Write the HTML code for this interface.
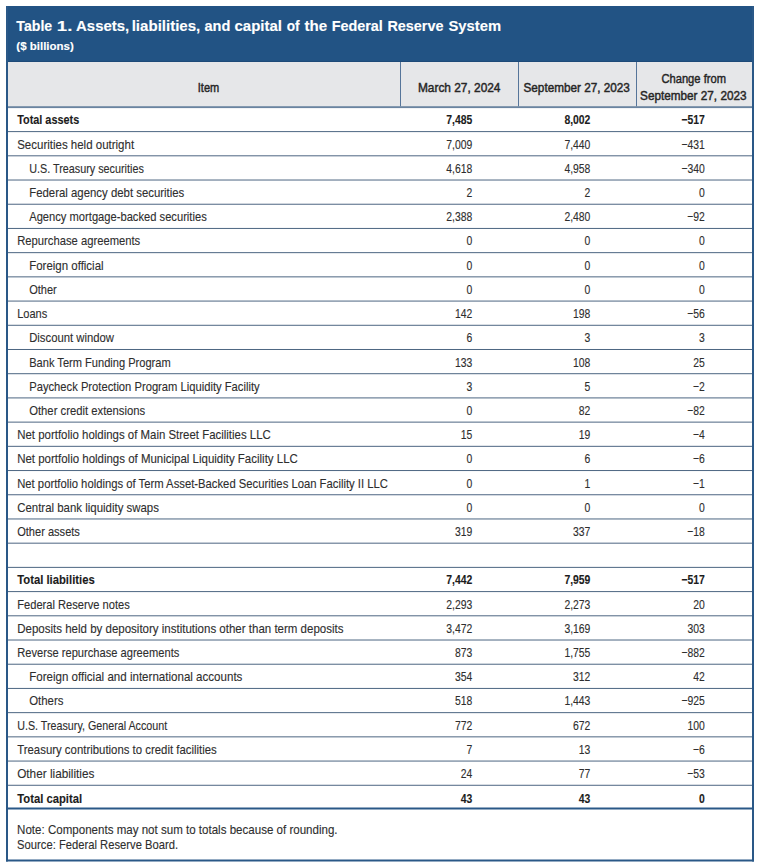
<!DOCTYPE html>
<html><head><meta charset="utf-8"><title>Table 1. Assets, liabilities, and capital of the Federal Reserve System</title>
<style>
html,body{margin:0;padding:0;background:#fff;}
body{width:757px;height:866px;overflow:hidden;}
svg{display:block;}
svg text{font-family:"Liberation Sans", Arial, sans-serif;}
</style></head><body>
<svg width="757" height="866" viewBox="0 0 757 866">
<rect x="0" y="0" width="757" height="866" fill="#ffffff"/>
<rect x="6" y="6" width="748" height="56" fill="#225384"/>
<rect x="6" y="61" width="748" height="1" fill="#1e4a78"/>
<rect x="8" y="62" width="744" height="44.5" fill="#e6e7e9"/>
<rect x="400.0" y="62" width="1" height="44.5" fill="#56759a"/>
<rect x="518.0" y="62" width="1" height="44.5" fill="#56759a"/>
<rect x="636.0" y="62" width="1" height="44.5" fill="#56759a"/>
<rect x="8" y="106.2" width="744" height="1.9" fill="#6a84a0"/>
<rect x="8" y="131.10" width="744" height="1" fill="#4d6682"/>
<rect x="8" y="155.31" width="744" height="1" fill="#4d6682"/>
<rect x="8" y="179.52" width="744" height="1" fill="#4d6682"/>
<rect x="8" y="203.73" width="744" height="1" fill="#4d6682"/>
<rect x="8" y="227.94" width="744" height="1" fill="#4d6682"/>
<rect x="8" y="252.15" width="744" height="1" fill="#4d6682"/>
<rect x="8" y="276.36" width="744" height="1" fill="#4d6682"/>
<rect x="8" y="300.57" width="744" height="1" fill="#4d6682"/>
<rect x="8" y="324.78" width="744" height="1" fill="#4d6682"/>
<rect x="8" y="348.99" width="744" height="1" fill="#4d6682"/>
<rect x="8" y="373.20" width="744" height="1" fill="#4d6682"/>
<rect x="8" y="397.41" width="744" height="1" fill="#4d6682"/>
<rect x="8" y="421.62" width="744" height="1" fill="#4d6682"/>
<rect x="8" y="445.83" width="744" height="1" fill="#4d6682"/>
<rect x="8" y="470.04" width="744" height="1" fill="#4d6682"/>
<rect x="8" y="494.25" width="744" height="1" fill="#4d6682"/>
<rect x="8" y="518.46" width="744" height="1" fill="#4d6682"/>
<rect x="8" y="542.67" width="744" height="1" fill="#4d6682"/>
<rect x="8" y="566.88" width="744" height="1" fill="#4d6682"/>
<rect x="8" y="591.09" width="744" height="1" fill="#4d6682"/>
<rect x="8" y="615.30" width="744" height="1" fill="#4d6682"/>
<rect x="8" y="639.51" width="744" height="1" fill="#4d6682"/>
<rect x="8" y="663.72" width="744" height="1" fill="#4d6682"/>
<rect x="8" y="687.93" width="744" height="1" fill="#4d6682"/>
<rect x="8" y="712.14" width="744" height="1" fill="#4d6682"/>
<rect x="8" y="736.35" width="744" height="1" fill="#4d6682"/>
<rect x="8" y="760.56" width="744" height="1" fill="#4d6682"/>
<rect x="8" y="784.77" width="744" height="1" fill="#4d6682"/>
<rect x="8" y="807.5" width="744" height="2" fill="#2a5887"/>
<rect x="6" y="6" width="2" height="855.5" fill="#2a5887"/>
<rect x="752" y="6" width="2" height="855.5" fill="#2a5887"/>
<rect x="6" y="859.5" width="748" height="2" fill="#2a5887"/>
<g fill="#2e2e2e" stroke="#2e2e2e" stroke-width="0.12">
<text transform="translate(16.31 30.80) scale(0.9436 1)" font-size="15" font-weight="bold" fill="#ffffff" stroke="#ffffff">Table</text>
<text transform="translate(56.86 30.80) scale(1.2381 1)" font-size="15" font-weight="bold" fill="#ffffff" stroke="#ffffff">1.</text>
<text transform="translate(76.10 30.80) scale(0.9952 1)" font-size="15" font-weight="bold" fill="#ffffff" stroke="#ffffff">Assets,</text>
<text transform="translate(131.69 30.80) scale(1.0053 1)" font-size="15" font-weight="bold" fill="#ffffff" stroke="#ffffff">liabilities,</text>
<text transform="translate(204.41 30.80) scale(0.9703 1)" font-size="15" font-weight="bold" fill="#ffffff" stroke="#ffffff">and</text>
<text transform="translate(234.50 30.80) scale(1.0000 1)" font-size="15" font-weight="bold" fill="#ffffff" stroke="#ffffff">capital</text>
<text transform="translate(286.65 30.80) scale(0.9091 1)" font-size="15" font-weight="bold" fill="#ffffff" stroke="#ffffff">of</text>
<text transform="translate(304.45 30.80) scale(1.0069 1)" font-size="15" font-weight="bold" fill="#ffffff" stroke="#ffffff">the</text>
<text transform="translate(331.64 30.80) scale(0.9600 1)" font-size="15" font-weight="bold" fill="#ffffff" stroke="#ffffff">Federal</text>
<text transform="translate(387.44 30.80) scale(0.9596 1)" font-size="15" font-weight="bold" fill="#ffffff" stroke="#ffffff">Reserve</text>
<text transform="translate(448.51 30.80) scale(0.9865 1)" font-size="15" font-weight="bold" fill="#ffffff" stroke="#ffffff">System</text>
<text transform="translate(16.30 50.20) scale(1.0000 1)" font-size="11.5" font-weight="bold" fill="#ffffff" stroke="#ffffff">($ billions)</text>
<text transform="translate(208.50 91.80) scale(0.8500 1)" font-size="13" text-anchor="middle" fill="#262626" stroke="#262626" stroke-width="0.45">Item</text>
<text transform="translate(459.20 91.80) scale(0.9150 1)" font-size="13" text-anchor="middle" fill="#262626" stroke="#262626" stroke-width="0.45">March 27, 2024</text>
<text transform="translate(576.70 91.80) scale(0.9050 1)" font-size="13" text-anchor="middle" fill="#262626" stroke="#262626" stroke-width="0.45">September 27, 2023</text>
<text transform="translate(693.70 82.90) scale(0.8600 1)" font-size="13" text-anchor="middle" fill="#262626" stroke="#262626" stroke-width="0.45">Change from</text>
<text transform="translate(693.30 99.90) scale(0.9050 1)" font-size="13" text-anchor="middle" fill="#262626" stroke="#262626" stroke-width="0.45">September 27, 2023</text>
<text transform="translate(17.20 124.10) scale(0.8369 1)" font-size="13" font-weight="bold" fill="#1c1c1c" stroke="#1c1c1c">Total assets</text>
<text transform="translate(472.30 124.10) scale(0.8000 1)" font-size="13" font-weight="bold" text-anchor="end" fill="#1c1c1c" stroke="#1c1c1c">7,485</text>
<text transform="translate(590.40 124.10) scale(0.8000 1)" font-size="13" font-weight="bold" text-anchor="end" fill="#1c1c1c" stroke="#1c1c1c">8,002</text>
<text transform="translate(704.90 124.10) scale(0.8000 1)" font-size="13" font-weight="bold" text-anchor="end" fill="#1c1c1c" stroke="#1c1c1c">−517</text>
<text transform="translate(17.20 148.61) scale(0.8842 1)" font-size="13">Securities held outright</text>
<text transform="translate(472.30 148.61) scale(0.8000 1)" font-size="13" text-anchor="end">7,009</text>
<text transform="translate(590.40 148.61) scale(0.8000 1)" font-size="13" text-anchor="end">7,440</text>
<text transform="translate(704.90 148.61) scale(0.8000 1)" font-size="13" text-anchor="end">−431</text>
<text transform="translate(29.20 172.82) scale(0.8320 1)" font-size="13">U.S. Treasury securities</text>
<text transform="translate(472.30 172.82) scale(0.8000 1)" font-size="13" text-anchor="end">4,618</text>
<text transform="translate(590.40 172.82) scale(0.8000 1)" font-size="13" text-anchor="end">4,958</text>
<text transform="translate(704.90 172.82) scale(0.8000 1)" font-size="13" text-anchor="end">−340</text>
<text transform="translate(29.20 197.03) scale(0.8765 1)" font-size="13">Federal agency debt securities</text>
<text transform="translate(472.30 197.03) scale(0.8000 1)" font-size="13" text-anchor="end">2</text>
<text transform="translate(590.40 197.03) scale(0.8000 1)" font-size="13" text-anchor="end">2</text>
<text transform="translate(704.90 197.03) scale(0.8000 1)" font-size="13" text-anchor="end">0</text>
<text transform="translate(29.20 221.24) scale(0.8601 1)" font-size="13">Agency mortgage-backed securities</text>
<text transform="translate(472.30 221.24) scale(0.8000 1)" font-size="13" text-anchor="end">2,388</text>
<text transform="translate(590.40 221.24) scale(0.8000 1)" font-size="13" text-anchor="end">2,480</text>
<text transform="translate(704.90 221.24) scale(0.8000 1)" font-size="13" text-anchor="end">−92</text>
<text transform="translate(17.20 245.45) scale(0.8652 1)" font-size="13">Repurchase agreements</text>
<text transform="translate(472.30 245.45) scale(0.8000 1)" font-size="13" text-anchor="end">0</text>
<text transform="translate(590.40 245.45) scale(0.8000 1)" font-size="13" text-anchor="end">0</text>
<text transform="translate(704.90 245.45) scale(0.8000 1)" font-size="13" text-anchor="end">0</text>
<text transform="translate(29.20 269.66) scale(0.8834 1)" font-size="13">Foreign official</text>
<text transform="translate(472.30 269.66) scale(0.8000 1)" font-size="13" text-anchor="end">0</text>
<text transform="translate(590.40 269.66) scale(0.8000 1)" font-size="13" text-anchor="end">0</text>
<text transform="translate(704.90 269.66) scale(0.8000 1)" font-size="13" text-anchor="end">0</text>
<text transform="translate(29.20 293.87) scale(0.8500 1)" font-size="13">Other</text>
<text transform="translate(472.30 293.87) scale(0.8000 1)" font-size="13" text-anchor="end">0</text>
<text transform="translate(590.40 293.87) scale(0.8000 1)" font-size="13" text-anchor="end">0</text>
<text transform="translate(704.90 293.87) scale(0.8000 1)" font-size="13" text-anchor="end">0</text>
<text transform="translate(17.20 318.08) scale(0.8506 1)" font-size="13">Loans</text>
<text transform="translate(472.30 318.08) scale(0.8000 1)" font-size="13" text-anchor="end">142</text>
<text transform="translate(590.40 318.08) scale(0.8000 1)" font-size="13" text-anchor="end">198</text>
<text transform="translate(704.90 318.08) scale(0.8000 1)" font-size="13" text-anchor="end">−56</text>
<text transform="translate(29.20 342.29) scale(0.8703 1)" font-size="13">Discount window</text>
<text transform="translate(472.30 342.29) scale(0.8000 1)" font-size="13" text-anchor="end">6</text>
<text transform="translate(590.40 342.29) scale(0.8000 1)" font-size="13" text-anchor="end">3</text>
<text transform="translate(704.90 342.29) scale(0.8000 1)" font-size="13" text-anchor="end">3</text>
<text transform="translate(29.20 366.50) scale(0.8529 1)" font-size="13">Bank Term Funding Program</text>
<text transform="translate(472.30 366.50) scale(0.8000 1)" font-size="13" text-anchor="end">133</text>
<text transform="translate(590.40 366.50) scale(0.8000 1)" font-size="13" text-anchor="end">108</text>
<text transform="translate(704.90 366.50) scale(0.8000 1)" font-size="13" text-anchor="end">25</text>
<text transform="translate(29.20 390.71) scale(0.8631 1)" font-size="13">Paycheck Protection Program Liquidity Facility</text>
<text transform="translate(472.30 390.71) scale(0.8000 1)" font-size="13" text-anchor="end">3</text>
<text transform="translate(590.40 390.71) scale(0.8000 1)" font-size="13" text-anchor="end">5</text>
<text transform="translate(704.90 390.71) scale(0.8000 1)" font-size="13" text-anchor="end">−2</text>
<text transform="translate(29.20 414.92) scale(0.8688 1)" font-size="13">Other credit extensions</text>
<text transform="translate(472.30 414.92) scale(0.8000 1)" font-size="13" text-anchor="end">0</text>
<text transform="translate(590.40 414.92) scale(0.8000 1)" font-size="13" text-anchor="end">82</text>
<text transform="translate(704.90 414.92) scale(0.8000 1)" font-size="13" text-anchor="end">−82</text>
<text transform="translate(17.20 439.13) scale(0.8807 1)" font-size="13">Net portfolio holdings of Main Street Facilities LLC</text>
<text transform="translate(472.30 439.13) scale(0.8000 1)" font-size="13" text-anchor="end">15</text>
<text transform="translate(590.40 439.13) scale(0.8000 1)" font-size="13" text-anchor="end">19</text>
<text transform="translate(704.90 439.13) scale(0.8000 1)" font-size="13" text-anchor="end">−4</text>
<text transform="translate(17.20 463.34) scale(0.8839 1)" font-size="13">Net portfolio holdings of Municipal Liquidity Facility LLC</text>
<text transform="translate(472.30 463.34) scale(0.8000 1)" font-size="13" text-anchor="end">0</text>
<text transform="translate(590.40 463.34) scale(0.8000 1)" font-size="13" text-anchor="end">6</text>
<text transform="translate(704.90 463.34) scale(0.8000 1)" font-size="13" text-anchor="end">−6</text>
<text transform="translate(17.20 487.55) scale(0.8684 1)" font-size="13">Net portfolio holdings of Term Asset-Backed Securities Loan Facility II LLC</text>
<text transform="translate(472.30 487.55) scale(0.8000 1)" font-size="13" text-anchor="end">0</text>
<text transform="translate(590.40 487.55) scale(0.8000 1)" font-size="13" text-anchor="end">1</text>
<text transform="translate(704.90 487.55) scale(0.8000 1)" font-size="13" text-anchor="end">−1</text>
<text transform="translate(17.20 511.76) scale(0.8806 1)" font-size="13">Central bank liquidity swaps</text>
<text transform="translate(472.30 511.76) scale(0.8000 1)" font-size="13" text-anchor="end">0</text>
<text transform="translate(590.40 511.76) scale(0.8000 1)" font-size="13" text-anchor="end">0</text>
<text transform="translate(704.90 511.76) scale(0.8000 1)" font-size="13" text-anchor="end">0</text>
<text transform="translate(17.20 535.97) scale(0.8512 1)" font-size="13">Other assets</text>
<text transform="translate(472.30 535.97) scale(0.8000 1)" font-size="13" text-anchor="end">319</text>
<text transform="translate(590.40 535.97) scale(0.8000 1)" font-size="13" text-anchor="end">337</text>
<text transform="translate(704.90 535.97) scale(0.8000 1)" font-size="13" text-anchor="end">−18</text>
<text transform="translate(17.20 584.39) scale(0.8692 1)" font-size="13" font-weight="bold" fill="#1c1c1c" stroke="#1c1c1c">Total liabilities</text>
<text transform="translate(472.30 584.39) scale(0.8000 1)" font-size="13" font-weight="bold" text-anchor="end" fill="#1c1c1c" stroke="#1c1c1c">7,442</text>
<text transform="translate(590.40 584.39) scale(0.8000 1)" font-size="13" font-weight="bold" text-anchor="end" fill="#1c1c1c" stroke="#1c1c1c">7,959</text>
<text transform="translate(704.90 584.39) scale(0.8000 1)" font-size="13" font-weight="bold" text-anchor="end" fill="#1c1c1c" stroke="#1c1c1c">−517</text>
<text transform="translate(17.20 608.60) scale(0.8575 1)" font-size="13">Federal Reserve notes</text>
<text transform="translate(472.30 608.60) scale(0.8000 1)" font-size="13" text-anchor="end">2,293</text>
<text transform="translate(590.40 608.60) scale(0.8000 1)" font-size="13" text-anchor="end">2,273</text>
<text transform="translate(704.90 608.60) scale(0.8000 1)" font-size="13" text-anchor="end">20</text>
<text transform="translate(17.20 632.81) scale(0.8869 1)" font-size="13">Deposits held by depository institutions other than term deposits</text>
<text transform="translate(472.30 632.81) scale(0.8000 1)" font-size="13" text-anchor="end">3,472</text>
<text transform="translate(590.40 632.81) scale(0.8000 1)" font-size="13" text-anchor="end">3,169</text>
<text transform="translate(704.90 632.81) scale(0.8000 1)" font-size="13" text-anchor="end">303</text>
<text transform="translate(17.20 657.02) scale(0.8572 1)" font-size="13">Reverse repurchase agreements</text>
<text transform="translate(472.30 657.02) scale(0.8000 1)" font-size="13" text-anchor="end">873</text>
<text transform="translate(590.40 657.02) scale(0.8000 1)" font-size="13" text-anchor="end">1,755</text>
<text transform="translate(704.90 657.02) scale(0.8000 1)" font-size="13" text-anchor="end">−882</text>
<text transform="translate(29.20 681.23) scale(0.8902 1)" font-size="13">Foreign official and international accounts</text>
<text transform="translate(472.30 681.23) scale(0.8000 1)" font-size="13" text-anchor="end">354</text>
<text transform="translate(590.40 681.23) scale(0.8000 1)" font-size="13" text-anchor="end">312</text>
<text transform="translate(704.90 681.23) scale(0.8000 1)" font-size="13" text-anchor="end">42</text>
<text transform="translate(29.20 705.44) scale(0.8786 1)" font-size="13">Others</text>
<text transform="translate(472.30 705.44) scale(0.8000 1)" font-size="13" text-anchor="end">518</text>
<text transform="translate(590.40 705.44) scale(0.8000 1)" font-size="13" text-anchor="end">1,443</text>
<text transform="translate(704.90 705.44) scale(0.8000 1)" font-size="13" text-anchor="end">−925</text>
<text transform="translate(17.20 729.65) scale(0.8262 1)" font-size="13">U.S. Treasury, General Account</text>
<text transform="translate(472.30 729.65) scale(0.8000 1)" font-size="13" text-anchor="end">772</text>
<text transform="translate(590.40 729.65) scale(0.8000 1)" font-size="13" text-anchor="end">672</text>
<text transform="translate(704.90 729.65) scale(0.8000 1)" font-size="13" text-anchor="end">100</text>
<text transform="translate(17.20 753.86) scale(0.8761 1)" font-size="13">Treasury contributions to credit facilities</text>
<text transform="translate(472.30 753.86) scale(0.8000 1)" font-size="13" text-anchor="end">7</text>
<text transform="translate(590.40 753.86) scale(0.8000 1)" font-size="13" text-anchor="end">13</text>
<text transform="translate(704.90 753.86) scale(0.8000 1)" font-size="13" text-anchor="end">−6</text>
<text transform="translate(17.20 778.07) scale(0.9066 1)" font-size="13">Other liabilities</text>
<text transform="translate(472.30 778.07) scale(0.8000 1)" font-size="13" text-anchor="end">24</text>
<text transform="translate(590.40 778.07) scale(0.8000 1)" font-size="13" text-anchor="end">77</text>
<text transform="translate(704.90 778.07) scale(0.8000 1)" font-size="13" text-anchor="end">−53</text>
<text transform="translate(17.20 802.70) scale(0.8675 1)" font-size="13" font-weight="bold" fill="#1c1c1c" stroke="#1c1c1c">Total capital</text>
<text transform="translate(472.30 802.70) scale(0.8000 1)" font-size="13" font-weight="bold" text-anchor="end" fill="#1c1c1c" stroke="#1c1c1c">43</text>
<text transform="translate(590.40 802.70) scale(0.8000 1)" font-size="13" font-weight="bold" text-anchor="end" fill="#1c1c1c" stroke="#1c1c1c">43</text>
<text transform="translate(704.90 802.70) scale(0.8000 1)" font-size="13" font-weight="bold" text-anchor="end" fill="#1c1c1c" stroke="#1c1c1c">0</text>
<text transform="translate(17.10 833.90) scale(0.9250 1)" font-size="12.5">Note: Components may not sum to totals because of rounding.</text>
<text transform="translate(17.10 849.10) scale(0.8990 1)" font-size="12.5">Source: Federal Reserve Board.</text>
</g>
</svg>
</body></html>
